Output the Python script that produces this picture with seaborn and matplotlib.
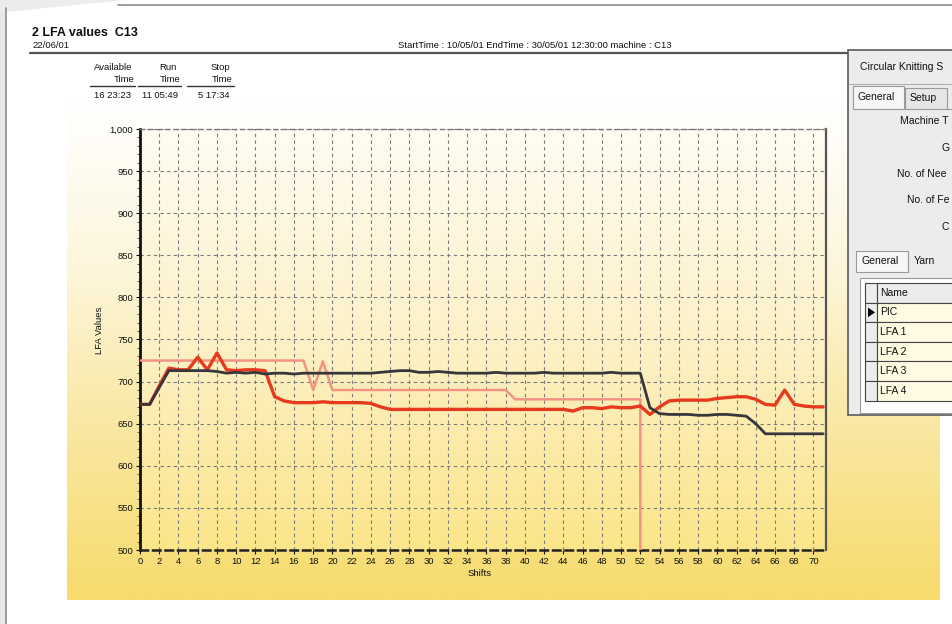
import matplotlib
matplotlib.use('Agg')  # non-interactive backend

import numpy as np
import pandas as pd
import matplotlib.pyplot as plt
import seaborn as sns
from matplotlib.colors import LinearSegmentedColormap
from matplotlib.patches import Rectangle, Polygon
from matplotlib.ticker import MultipleLocator, FuncFormatter

# --- data ---
shifts = list(range(0, 72))

dark_vals = [673, 673, 693, 713, 713, 713, 713, 713, 712, 710,
             711, 710, 711, 709, 710, 710, 709, 710, 710, 710,
             710, 710, 710, 710, 710, 711, 712, 713, 713, 711,
             711, 712, 711, 710, 710, 710, 710, 711, 710, 710,
             710, 710, 711, 710, 710, 710, 710, 710, 710, 711,
             710, 710, 710, 669, 662, 661, 661, 661, 660, 660,
             661, 661, 660, 659, 650, 638, 638, 638, 638, 638,
             638, 638]

red_vals = [673, 673, 695, 716, 714, 714, 729, 714, 734, 714,
            713, 714, 714, 713, 682, 677, 675, 675, 675, 676,
            675, 675, 675, 675, 674, 670, 667, 667, 667, 667,
            667, 667, 667, 667, 667, 667, 667, 667, 667, 667,
            667, 667, 667, 667, 667, 665, 669, 669, 668, 670,
            669, 669, 671, 661, 670, 677, 678, 678, 678, 678,
            680, 681, 682, 682, 679, 673, 672, 690, 673, 671,
            670, 670]

# pink series stops at shift 52 and falls to zero
pink_shifts = list(range(0, 53)) + [52]
pink_vals = [725] * 18 + [690, 724] + [690] * 19 + [679] * 14 + [0]

y_ticks = list(range(500, 1001, 50))
x_ticks = list(range(0, 71, 2))

header_title = "2 LFA values  C13"
header_date = "22/06/01"
header_info = "StartTime : 10/05/01 EndTime : 30/05/01 12:30:00 machine : C13"
table_heads = [("Available", "Time"), ("Run", "Time"), ("Stop", "Time")]
table_values = ["16 23:23", "11 05:49", "5 17:34"]

# the dialog is cut by the picture edge: only the visible part of each label
dialog_title = "Circular Knitting S"
dialog_fields = ["Machine T", "G", "No. of Nee", "No. of Fe", "C"]
grid_rows = ["Name", "PIC", "LFA 1", "LFA 2", "LFA 3", "LFA 4"]

sns.set_style('white')
plt.rcParams['font.family'] = ['Liberation Sans', 'DejaVu Sans']

W, H = 952, 624
fig = plt.figure(figsize=(W / 100, H / 100), dpi=100)

# background layer in pixel coordinates
bg = fig.add_axes([0, 0, 1, 1])
bg.set_xlim(0, W)
bg.set_ylim(H, 0)
bg.axis('off')

grad = np.linspace(0, 1, 256)[:, None]
panel_cmap = LinearSegmentedColormap.from_list(
    'panel', ['#ffffff', '#fdf6dc', '#f9e7a0', '#f7db6c'])
bg.imshow(grad, extent=(67, 940, 600, 100), cmap=panel_cmap, aspect='auto', zorder=0)

# page frame
bg.add_patch(Rectangle((0, 0), 6, H, fc='#e8e8e8', ec='none', zorder=1))
bg.add_patch(Polygon([(0, 0), (125, 0), (6, 12), (0, 12)], closed=True,
                     fc='#ececec', ec='none', zorder=1))
bg.plot([6, 6], [8, H], color='#8c8c8c', lw=1.2, zorder=2)
bg.plot([118, W], [5, 5], color='#8c8c8c', lw=1.2, zorder=2)

# header
bg.text(32, 33, header_title, fontsize=9, fontweight='bold', va='center', color='#111111')
bg.text(32, 46, header_date, fontsize=6.8, va='center', color='#111111')
bg.text(535, 46, header_info, fontsize=6.8, va='center', ha='center', color='#111111')
bg.plot([30, 850], [53, 53], color='#555555', lw=1.6)

head_right = [134, 180, 233]
head_top_x = [113, 168, 220]
underline = [(90, 135), (138, 181), (187, 234)]
value_x = [112, 160, 214]
for (top, bottom), rx, tx, (u0, u1), vx, val in zip(table_heads, head_right, head_top_x,
                                                     underline, value_x, table_values):
    bg.text(tx, 67, top, fontsize=6.8, ha='center', va='center', color='#111111')
    bg.text(rx, 80, bottom, fontsize=6.8, ha='right', va='center', color='#111111')
    bg.plot([u0, u1], [86, 86], color='#333333', lw=1)
    bg.text(vx, 96, val, fontsize=6.8, ha='center', va='center', color='#111111')

bg.text(100, 330, "LFA Values", fontsize=6.8, rotation=90, ha='center', va='center', color='#111111')
bg.text(480, 574, "Shifts", fontsize=6.8, ha='center', va='center', color='#111111')

# main chart
ax = fig.add_axes([140 / W, 1 - 550 / H, (826 - 140) / W, (550 - 129) / H])
plot_cmap = LinearSegmentedColormap.from_list('plot', ['#fffcf3', '#fdf1c8', '#fbe58a'])
ax.imshow(grad, extent=(0, 1, 0, 1), transform=ax.transAxes, cmap=plot_cmap,
          aspect='auto', zorder=0)

sns.lineplot(x=pink_shifts, y=pink_vals, ax=ax, color='#f29484', lw=1.8,
             estimator=None, sort=False, zorder=3)
sns.lineplot(x=shifts, y=red_vals, ax=ax, color='#e63a1e', lw=2.4,
             estimator=None, sort=False, zorder=4)
sns.lineplot(x=shifts, y=dark_vals, ax=ax, color='#38363a', lw=2.0,
             estimator=None, sort=False, zorder=5)

ax.set_xlim(0, 71.3)
ax.set_ylim(500, 1000)
ax.set_xticks(x_ticks)
ax.set_yticks(y_ticks)
ax.yaxis.set_minor_locator(MultipleLocator(10))
ax.yaxis.set_major_formatter(FuncFormatter(lambda v, p: f"{int(v):,}"))
ax.tick_params(axis='both', labelsize=6.8, colors='#111111', length=3, width=0.8, pad=2)
ax.tick_params(axis='y', which='minor', length=2, width=0.6, colors='#444444')
ax.tick_params(axis='y', which='both', left=True)
ax.tick_params(axis='x', bottom=True)
ax.set_xlabel('')
ax.set_ylabel('')
ax.grid(True, which='major', color='#7a7a7a', lw=0.8, ls=(0, (3, 3)), zorder=1)
ax.set_axisbelow(True)

ax.spines['left'].set_color('#111111')
ax.spines['left'].set_linewidth(2)
ax.spines['right'].set_color('#555555')
ax.spines['right'].set_linewidth(1.6)
ax.spines['bottom'].set_color('#222222')
ax.spines['bottom'].set_linewidth(1.8)
ax.spines['bottom'].set_linestyle((0, (3, 2)))
ax.spines['top'].set_color('#7a7a7a')
ax.spines['top'].set_linewidth(1.0)
ax.spines['top'].set_linestyle((0, (3, 3)))

# dialog window on the right
dl = fig.add_axes([0, 0, 1, 1], zorder=6)
dl.set_xlim(0, W)
dl.set_ylim(H, 0)
dl.axis('off')
dl.patch.set_alpha(0)

dl.add_patch(Rectangle((848, 50), 110, 365, fc='#ececec', ec='#5a5a5a', lw=1.2))
dl.plot([849, W], [84, 84], color='#b0b0b0', lw=0.8)
dl.text(860, 67, dialog_title, fontsize=7.5, va='center', color='#111111')

# top tabs
dl.add_patch(Rectangle((853, 86), 51, 23, fc='#f6f6f6', ec='#9a9a9a', lw=0.8))
dl.add_patch(Rectangle((905, 88), 42, 21, fc='#e6e6e6', ec='#9a9a9a', lw=0.8))
dl.plot([947, W], [109, 109], color='#9a9a9a', lw=0.8)
dl.text(857, 97, "General", fontsize=7.5, va='center', color='#111111')
dl.text(910, 98, "Setup", fontsize=7.5, va='center', color='#111111')

field_y = [121, 148, 174, 200, 227]
field_x = [900, 942, 897, 907, 942]
for name, fx, fy in zip(dialog_fields, field_x, field_y):
    dl.text(fx, fy, name, fontsize=7.5, va='center', color='#111111')

# lower tabs
dl.add_patch(Rectangle((856, 251), 52, 21, fc='#f6f6f6', ec='#9a9a9a', lw=0.8))
dl.plot([908, 908], [252, 272], color='#9a9a9a', lw=0.8)
dl.text(861, 261, "General", fontsize=7.5, va='center', color='#111111')
dl.text(914, 261, "Yarn", fontsize=7.5, va='center', color='#111111')

# grid of yarn rows
dl.add_patch(Rectangle((860, 278), 100, 135, fc='#ffffff', ec='#9a9a9a', lw=0.8))
row_top = 283
row_h = 19.6
for i, label in enumerate(grid_rows):
    y0 = row_top + i * row_h
    dl.add_patch(Rectangle((865, y0), 12, row_h, fc='#ececec', ec='#444444', lw=0.8))
    cell = '#ececec' if i == 0 else '#fffbe3'
    dl.add_patch(Rectangle((877, y0), 80, row_h, fc=cell, ec='#444444', lw=0.8))
    dl.text(880, y0 + row_h / 2, label, fontsize=7.5, va='center', color='#111111')
dl.add_patch(Polygon([(868, row_top + row_h + 5), (868, row_top + 2 * row_h - 5),
                      (875, row_top + 1.5 * row_h)], closed=True, fc='#000000', ec='none'))

fig.savefig('out.png', dpi=100)
